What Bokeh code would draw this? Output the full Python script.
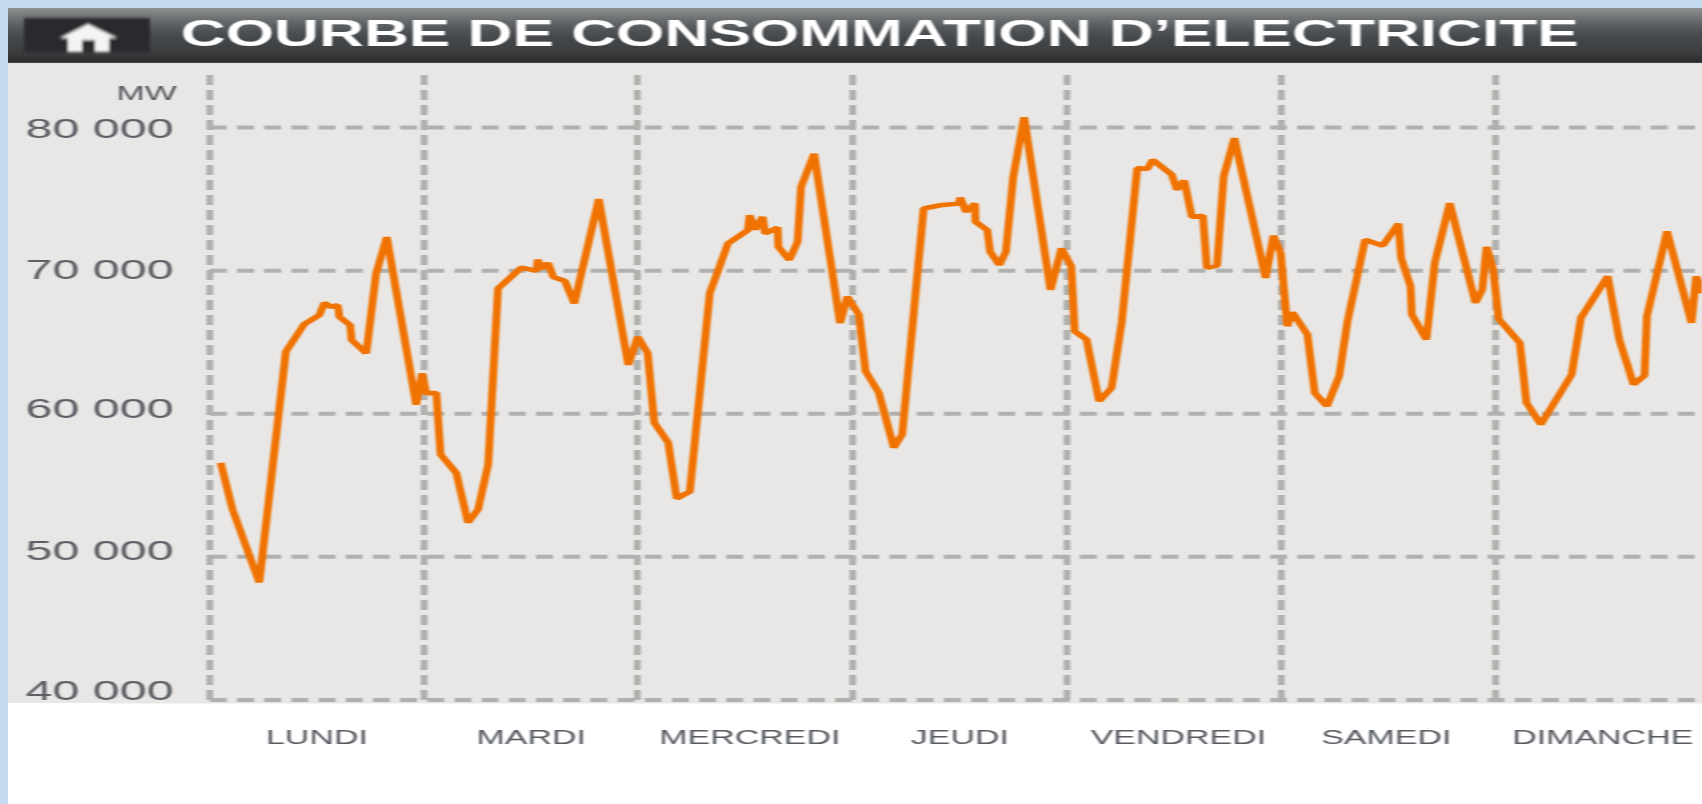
from urllib.parse import quote
from bokeh.plotting import figure
from bokeh.embed import file_html
from bokeh.resources import INLINE
from bokeh.models import Label, FixedTicker, Range1d, Title

TITLE = "COURBE DE CONSOMMATION D\u2019ELECTRICITE"
UNIT = "MW"

days = ["LUNDI", "MARDI", "MERCREDI", "JEUDI", "VENDREDI", "SAMEDI", "DIMANCHE"]
day_centres = [0.5, 1.5, 2.52, 3.5, 4.52, 5.49, 6.5]
day_edges = [0, 1, 1.995, 3, 4, 5, 6]

mw_grid = [40000, 50000, 60000, 70000, 80000]
mw_labels = ["40 000", "50 000", "60 000", "70 000", "80 000"]
mw_label_at = [40664, 50445, 60367, 70079, 80000]

time_days = [
    0.051, 0.106, 0.231, 0.355, 0.441, 0.511, 0.535, 0.566, 0.597, 0.605, 0.655, 0.662, 0.730, 0.776, 0.826,
    0.963, 0.991, 1.010, 1.057, 1.077, 1.150, 1.205, 1.252, 1.299, 1.345, 1.454, 1.525, 1.530, 1.548, 1.579,
    1.603, 1.657, 1.701, 1.815, 1.953, 1.997, 2.043, 2.074, 2.139, 2.179, 2.240, 2.333, 2.418, 2.511, 2.519,
    2.545, 2.580, 2.591, 2.650, 2.653, 2.704, 2.743, 2.759, 2.820, 2.941, 2.975, 3.029, 3.060, 3.122, 3.192,
    3.231, 3.331, 3.409, 3.494, 3.502, 3.529, 3.571, 3.573, 3.628, 3.641, 3.684, 3.715, 3.749, 3.800, 3.923,
    3.974, 4.020, 4.036, 4.091, 4.150, 4.208, 4.255, 4.328, 4.375, 4.400, 4.489, 4.513, 4.547, 4.583, 4.634,
    4.653, 4.700, 4.731, 4.781, 4.927, 4.963, 4.997, 5.028, 5.052, 5.122, 5.156, 5.213, 5.270, 5.309, 5.391,
    5.473, 5.547, 5.559, 5.603, 5.609, 5.677, 5.716, 5.786, 5.906, 5.938, 5.958, 5.989, 6.014, 6.113, 6.144,
    6.211, 6.355, 6.398, 6.523, 6.577, 6.644, 6.695, 6.706, 6.800, 6.914, 6.936, 6.964,
]
consumption_mw = [
    56567, 53319, 48215, 64339, 66265, 66891, 67750, 67471, 67587, 66775, 66195, 65151, 64223, 69791, 72343,
    60627, 62831, 61439, 61439, 57147, 55871, 52391, 53319, 56451, 68747, 70209, 69977, 70766, 70139, 70534,
    69559, 69281, 67703, 74997, 63411, 65383, 64246, 59374, 57982, 54078, 54567, 68422, 71902, 72830, 73874,
    72877, 73758, 72598, 73016, 71670, 70742, 72018, 75846, 78166, 66334, 68190, 66914, 62970, 61462, 57634,
    58562, 74338, 74570, 74686, 75104, 74106, 74686, 73410, 72830, 71322, 70394, 71322, 76542, 80718, 68654,
    71554, 70302, 65770, 65185, 60882, 61813, 66348, 77164, 77094, 77746, 76700, 75652, 76303, 73745, 73837,
    70186, 70349, 76582, 79255, 69488, 72442, 71233, 66115, 67093, 65535, 61464, 60533, 62627, 66465, 72163,
    71745, 73281, 70884, 68907, 66930, 65185, 70535, 74722, 67744, 68675, 71651, 70070, 66640, 64953, 60767,
    59255, 62744, 66698, 69605, 65186, 62047, 62674, 66814, 72744, 66349, 69605, 68442,
]

WIDTH, HEIGHT = 997, 802          # canvas size before the horizontal stretch
STRETCH = 1694 / WIDTH
FRAME_LEFT, FRAME_TOP, FRAME_BOTTOM = 60, 61, 701
GREY = "#e8e7e5"
X_END, Y_TOP = 6.967, 84472
GRID = "#b0b0ae"

p = figure(
    # Bokeh measures the stretched box, so the declared width is the canvas width over the stretch.
    width=round(WIDTH / STRETCH), height=HEIGHT, output_backend="svg", toolbar_location=None,
    x_range=Range1d(-0.462, X_END), y_range=Range1d(39755, Y_TOP),
    min_border_left=FRAME_LEFT, min_border_right=0,
    min_border_top=FRAME_TOP, min_border_bottom=HEIGHT - FRAME_BOTTOM,
    background_fill_color=GREY, border_fill_alpha=0, outline_line_color=None,
)
p.styles = {"transform": f"scaleX({STRETCH})", "transform-origin": "0 0", "filter": "blur(0.7px)"}

p.add_layout(Title(text=TITLE, text_color="white", text_font="Liberation Sans", text_font_style="bold",
                   text_font_size="36.6px", align="left", offset=(180 - 8) / STRETCH - FRAME_LEFT, standoff=18), "above")

p.xaxis.ticker = FixedTicker(ticks=day_centres)
p.xaxis.major_label_overrides = dict(zip(day_centres, days))
p.xaxis.major_label_text_font = "Liberation Sans"
p.xaxis.major_label_text_font_size = "20px"
p.xaxis.major_label_text_color = "#565a60"
p.xaxis.major_label_standoff = 17
p.xaxis.axis_line_color = None
p.xaxis.major_tick_line_color = None
p.xaxis.minor_tick_line_color = None

p.yaxis.ticker = FixedTicker(ticks=mw_label_at)
p.yaxis.major_label_overrides = dict(zip(mw_label_at, mw_labels))
p.yaxis.major_label_text_font = "Liberation Sans"
p.yaxis.major_label_text_font_size = "28.5px"
p.yaxis.major_label_text_color = "#5c6066"
p.yaxis.major_label_standoff = -43
p.yaxis.axis_line_color = None
p.yaxis.major_tick_line_color = None
p.yaxis.minor_tick_line_color = None

p.xgrid.visible = False
p.ygrid.visible = False
p.segment(day_edges, [40000] * len(day_edges), day_edges, [83700] * len(day_edges),
          line_color=GRID, line_width=4, line_dash="10 5")
p.segment([0] * len(mw_grid), mw_grid, [X_END] * len(mw_grid), mw_grid,
          line_color=GRID, line_width=4, line_dash="10 6")

p.line(time_days, consumption_mw, line_color="#f07200", line_width=4.6, line_join="bevel")

p.add_layout(Label(x=-0.154, y=82376, text=UNIT, text_align="right", text_baseline="middle",
                   text_font="Liberation Sans", text_font_size="20px", text_color="#565a60"))

html = file_html(p, INLINE)

# Page furniture behind the transparent canvas border: header band, home button, grey panel.
home_svg = (
    "<svg xmlns='http://www.w3.org/2000/svg' width='134' height='42'>"
    "<filter id='b'><feGaussianBlur stdDeviation='1.6'/></filter>"
    "<g filter='url(#b)'><rect x='4' y='4' width='126' height='34' fill='#2c2c2e'/>"
    "<polygon fill='#f4f4f4' points='40,24 68,10 97,24 89,24 89,38 75,38 75,26 62,26 62,38 48,38 48,24'/></g></svg>"
)
header = ("#8d9191 0,#757879 8px,#5f6265 16px,#4c4f53 24px,#434649 32px,#3f4143 40px,"
          "#363738 48px,#2a2a2b 54px,#555556 55px")
body_bg = (
    f"url(\"data:image/svg+xml,{quote(home_svg)}\") 20px 14px no-repeat,"
    f"linear-gradient(to bottom,{header},{GREY} 55px,{GREY} 695px,#fff 695px) 8px 8px/1694px 796px no-repeat,"
    "#c5daf0"
)
css = "html,body{overflow:hidden}body{margin:2px 0 0 8px !important;background:" + body_bg + "}"
html = html.replace("</head>", "<style>" + css + "</style></head>", 1)
open("out.html", "w").write(html)
